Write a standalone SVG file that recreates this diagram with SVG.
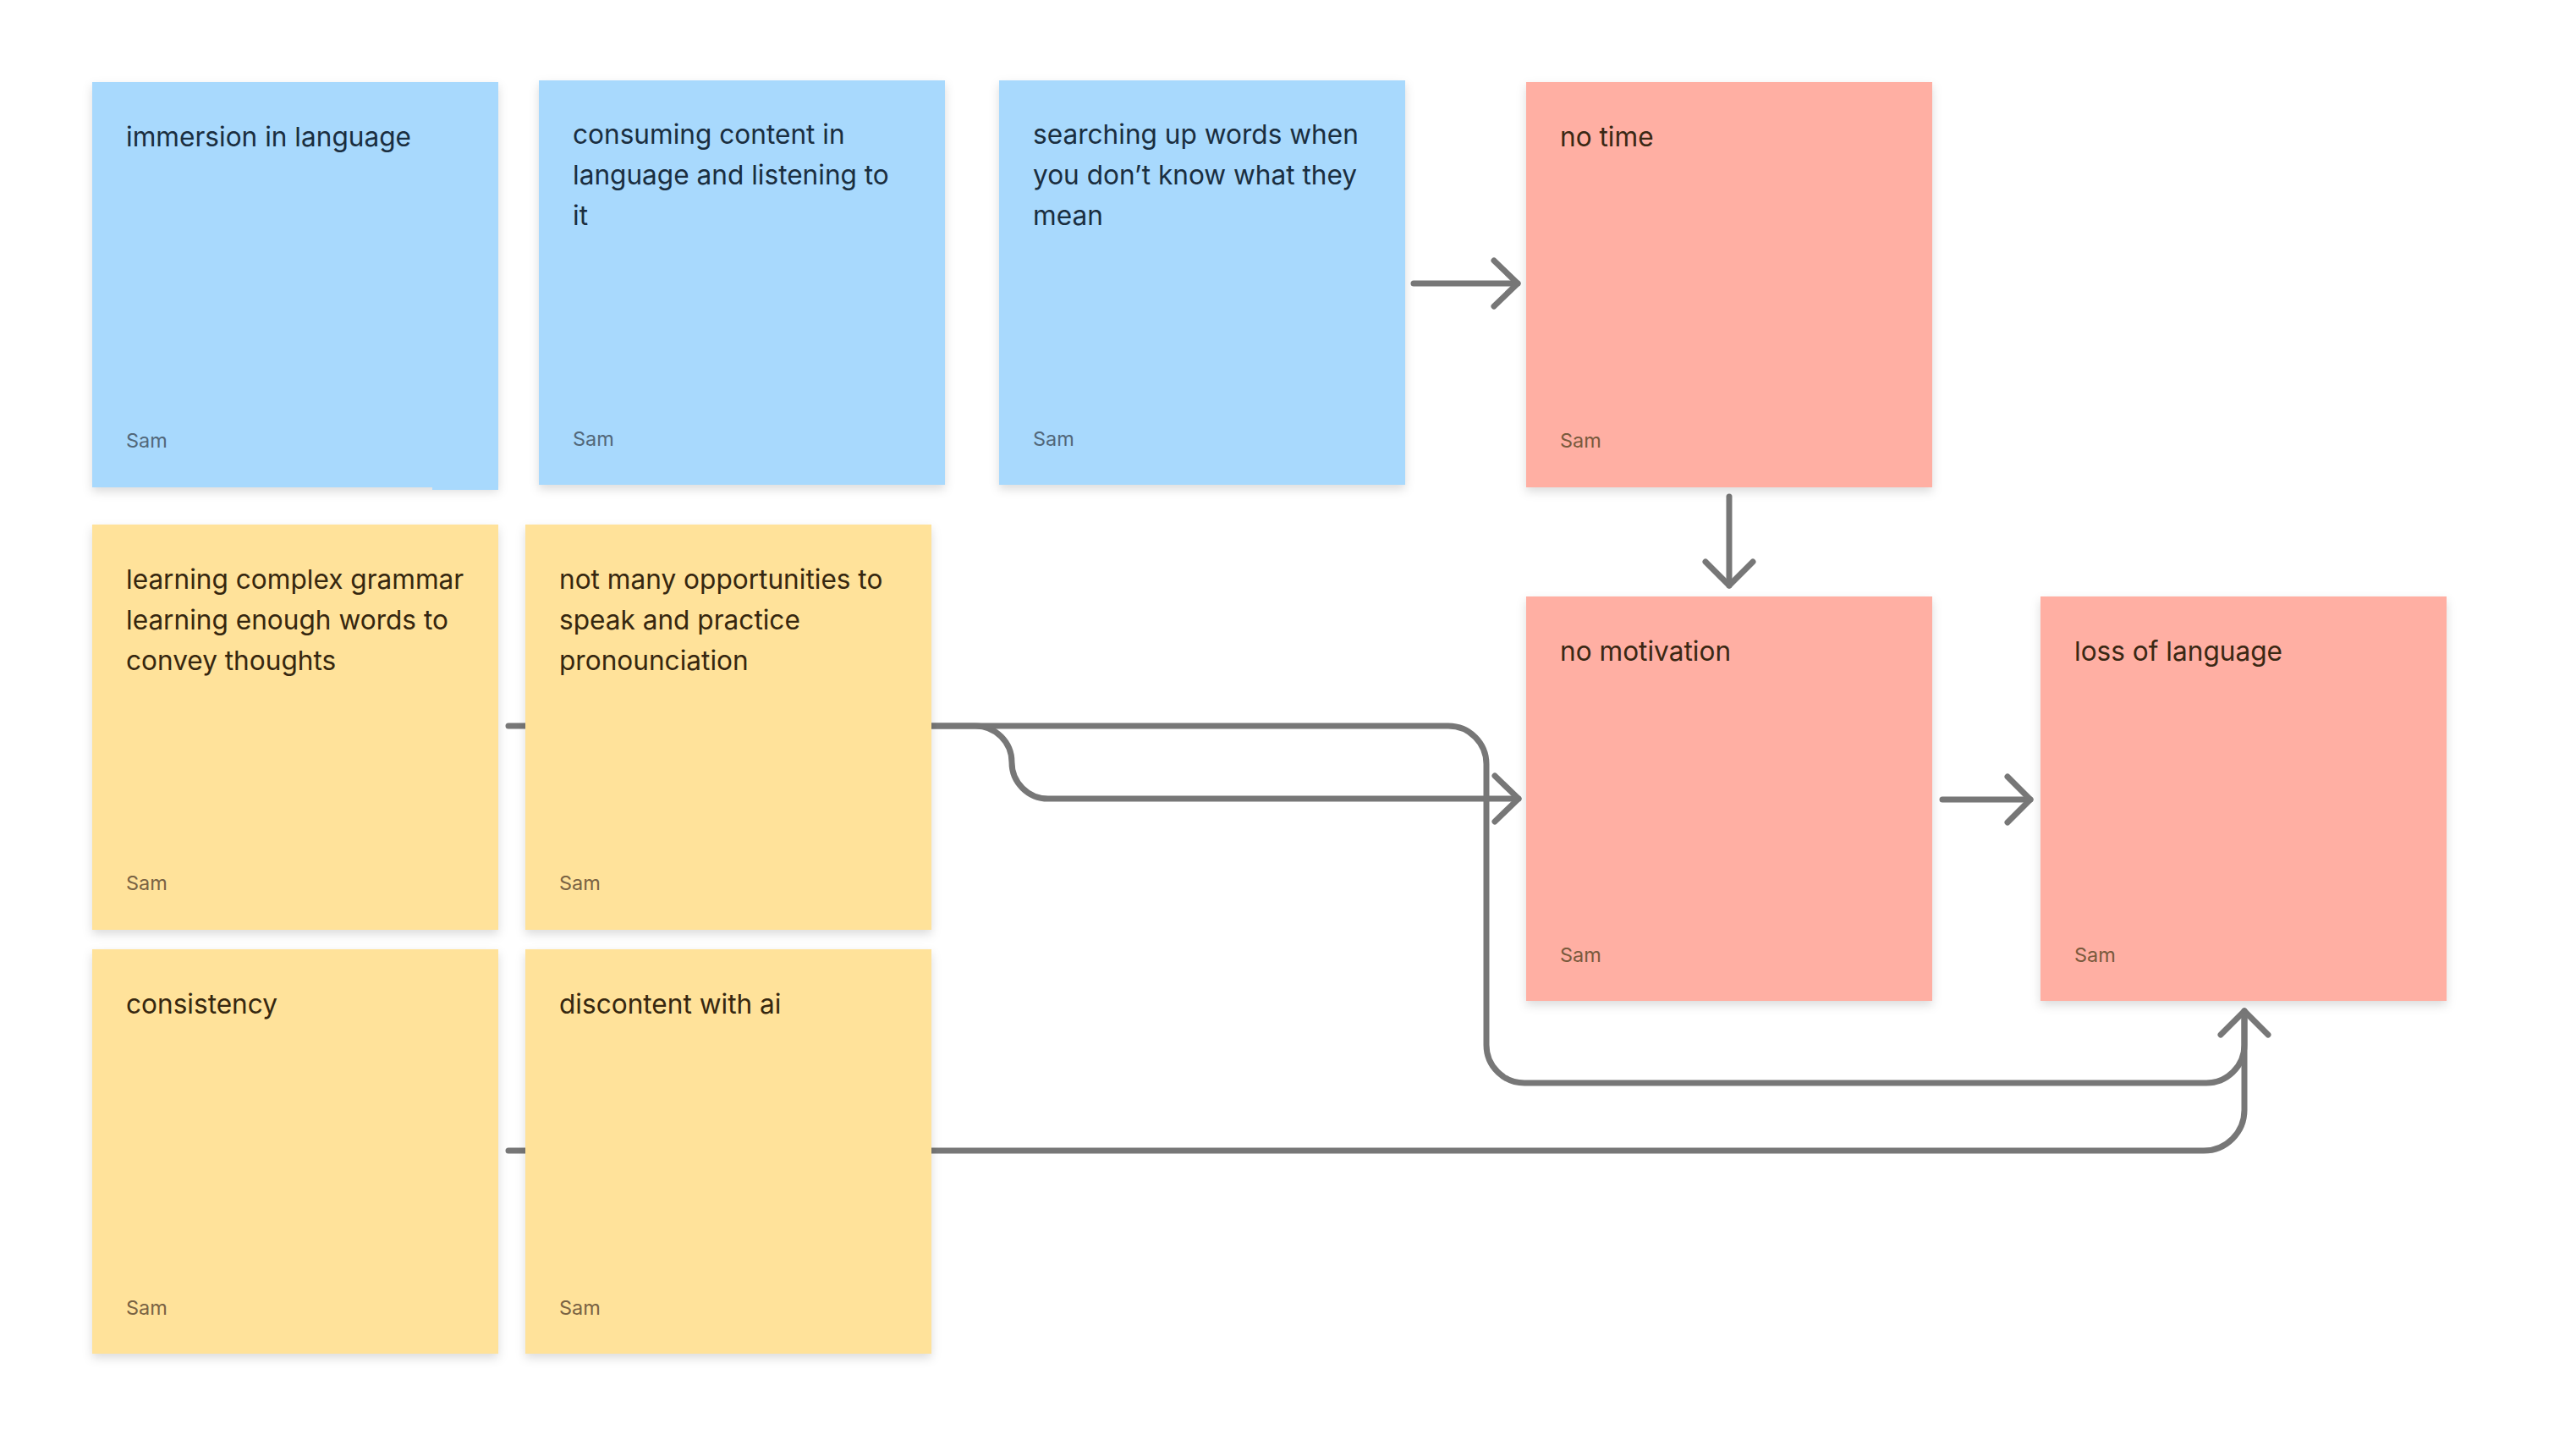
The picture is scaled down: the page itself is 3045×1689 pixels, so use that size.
<svg xmlns="http://www.w3.org/2000/svg" width="3045" height="1689" viewBox="0 0 3045 1689">
<style>
  .card { filter: url(#shadow); }
  .blue { fill: #a8d9fd; }
  .yellow { fill: #ffe29a; }
  .red { fill: #ffafa3; }
  .t { font-family: Inter, "Liberation Sans", sans-serif; font-size: 31.6px; }
  .s { font-family: Inter, "Liberation Sans", sans-serif; font-size: 23.5px; }
  .blue-t { fill: #1a2e40; }
  .blue-s { fill: #52687a; }
  .yel-t { fill: #36270f; }
  .yel-s { fill: #7a6343; }
  .red-t { fill: #3a2814; }
  .red-s { fill: #7a5a3d; }
  .conn { fill: none; stroke: #777777; stroke-width: 7; stroke-linecap: round; stroke-linejoin: round; }
</style>
<defs>
  <filter id="shadow" x="-10%" y="-10%" width="120%" height="125%">
    <feDropShadow dx="0" dy="5" stdDeviation="6" flood-color="#000000" flood-opacity="0.14"/>
  </filter>
</defs>
<rect width="3045" height="1689" fill="#ffffff"/>

<g id="connectors">
  <!-- searching -> no time -->
  <path class="conn" d="M1671 335 H1794"/>
  <path class="conn" d="M1766 308 L1794 335 L1766 362"/>
  <!-- no time -> no motivation -->
  <path class="conn" d="M2044 587 V692"/>
  <path class="conn" d="M2016 664 L2044 692 L2072 664"/>
  <!-- no motivation -> loss of language -->
  <path class="conn" d="M2296 945 H2400"/>
  <path class="conn" d="M2373 918 L2400 945 L2373 972"/>
  <!-- learning complex grammar -> no motivation (S-curve) -->
  <path class="conn" d="M601 858 H1153 A43 43 0 0 1 1196 901 A43 43 0 0 0 1239 944 H1795"/>
  <path class="conn" d="M1767 917 L1795 944 L1767 971"/>
  <!-- not many opportunities -> loss of language -->
  <path class="conn" d="M1101 858 H1712 A45 45 0 0 1 1757 903 V1235 A45 45 0 0 0 1802 1280 H2608 A45 45 0 0 0 2653 1235 V1195"/>
  <!-- consistency / discontent -> loss of language -->
  <path class="conn" d="M601 1360 H2605 A48 48 0 0 0 2653 1312 V1195"/>
  <path class="conn" d="M2625 1223 L2653 1195 L2681 1223"/>
</g>

<g id="node-immersion">
  <rect class="card blue" x="109" y="97" width="480" height="479"/>
  <rect class="blue" x="511" y="574" width="78" height="5"/>
  <text class="t blue-t" x="149" y="173">immersion in language</text>
  <text class="s blue-s" x="149" y="529">Sam</text>
</g>
<g id="node-consuming">
  <rect class="card blue" x="637" y="95" width="480" height="478"/>
  <text class="t blue-t" x="677" y="170">consuming content in</text>
  <text class="t blue-t" x="677" y="218">language and listening to</text>
  <text class="t blue-t" x="677" y="266">it</text>
  <text class="s blue-s" x="677" y="527">Sam</text>
</g>
<g id="node-searching">
  <rect class="card blue" x="1181" y="95" width="480" height="478"/>
  <text class="t blue-t" x="1221" y="170">searching up words when</text>
  <text class="t blue-t" x="1221" y="218">you don’t know what they</text>
  <text class="t blue-t" x="1221" y="266">mean</text>
  <text class="s blue-s" x="1221" y="527">Sam</text>
</g>
<g id="node-no-time">
  <rect class="card red" x="1804" y="97" width="480" height="479"/>
  <text class="t red-t" x="1844" y="173">no time</text>
  <text class="s red-s" x="1844" y="529">Sam</text>
</g>
<g id="node-no-motivation">
  <rect class="card red" x="1804" y="705" width="480" height="478"/>
  <text class="t red-t" x="1844" y="781">no motivation</text>
  <text class="s red-s" x="1844" y="1137">Sam</text>
</g>
<g id="node-loss">
  <rect class="card red" x="2412" y="705" width="480" height="478"/>
  <text class="t red-t" x="2452" y="781">loss of language</text>
  <text class="s red-s" x="2452" y="1137">Sam</text>
</g>
<g id="node-grammar">
  <rect class="card yellow" x="109" y="620" width="480" height="479"/>
  <text class="t yel-t" x="149" y="696">learning complex grammar</text>
  <text class="t yel-t" x="149" y="744">learning enough words to</text>
  <text class="t yel-t" x="149" y="792">convey thoughts</text>
  <text class="s yel-s" x="149" y="1052">Sam</text>
</g>
<g id="node-opportunities">
  <rect class="card yellow" x="621" y="620" width="480" height="479"/>
  <text class="t yel-t" x="661" y="696">not many opportunities to</text>
  <text class="t yel-t" x="661" y="744">speak and practice</text>
  <text class="t yel-t" x="661" y="792">pronounciation</text>
  <text class="s yel-s" x="661" y="1052">Sam</text>
</g>
<g id="node-consistency">
  <rect class="card yellow" x="109" y="1122" width="480" height="478"/>
  <text class="t yel-t" x="149" y="1198">consistency</text>
  <text class="s yel-s" x="149" y="1554">Sam</text>
</g>
<g id="node-discontent">
  <rect class="card yellow" x="621" y="1122" width="480" height="478"/>
  <text class="t yel-t" x="661" y="1198">discontent with ai</text>
  <text class="s yel-s" x="661" y="1554">Sam</text>
</g>
</svg>
